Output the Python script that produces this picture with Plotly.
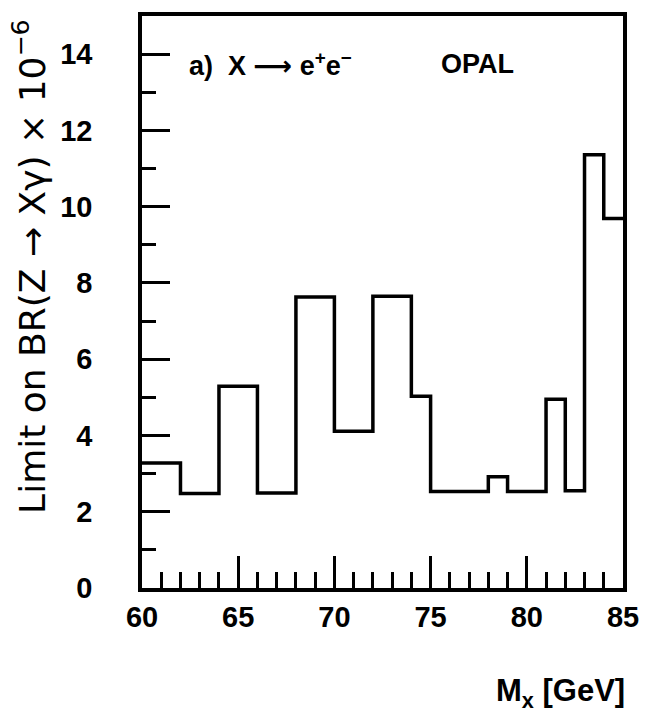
import plotly.graph_objects as go

# Bin edges (GeV) and limit values (x 10^-6)
bin_edges = [60, 62, 64, 66, 68, 70, 72, 74, 75, 78, 79, 81, 82, 83, 84, 85]
limits = [3.28, 2.48, 5.29, 2.49, 7.63, 4.11, 7.65, 5.03, 2.53, 2.92, 2.53, 4.95, 2.55, 11.36, 9.69]

x_ticks = [60, 65, 70, 75, 80, 85]
y_ticks = [0, 2, 4, 6, 8, 10, 12, 14]

FONT = "Liberation Sans, Arial, sans-serif"
WIDE = "DejaVu Sans, sans-serif"

fig = go.Figure()
fig.add_trace(go.Scatter(
    x=bin_edges,
    y=limits + [limits[-1]],
    mode="lines",
    line=dict(shape="hv", color="black", width=3.5),
    showlegend=False,
    hoverinfo="skip",
))

L, R, T, B = 142, 21, 12, 136
PW, PH = 651 - L - R, 724 - T - B


def px(x):
    return (x - L) / PW


def py(y):
    return (724 - B - y) / PH


fig.update_layout(
    width=651, height=724,
    margin=dict(l=L, r=R, t=T, b=B),
    paper_bgcolor="white", plot_bgcolor="white",
    font=dict(family=FONT, color="black"),
    xaxis=dict(
        range=[60, 85], tickvals=x_ticks, ticktext=[str(v) for v in x_ticks],
        ticks="inside", ticklen=32, tickwidth=3, tickcolor="black",
        minor=dict(dtick=1, tick0=60, ticks="inside", ticklen=16, tickwidth=3, tickcolor="black"),
        showgrid=False, zeroline=False,
        showline=True, linecolor="black", linewidth=3.5, mirror=True,
        tickfont=dict(size=29, family=FONT, weight="bold"),
        ticklabelstandoff=0,
    ),
    yaxis=dict(
        range=[0, 15], tickvals=y_ticks, ticktext=[str(v) for v in y_ticks],
        ticks="inside", ticklen=28, tickwidth=3, tickcolor="black",
        minor=dict(dtick=1, tick0=0, ticks="inside", ticklen=14, tickwidth=3, tickcolor="black"),
        showgrid=False, zeroline=False,
        showline=True, linecolor="black", linewidth=3.5, mirror=True,
        tickfont=dict(size=29, family=FONT, weight="bold"),
        ticklabelstandoff=40,
    ),
    annotations=[
        dict(text="a)  X <span style='font-family:DejaVu Sans'>\u27f6</span> e<sup>+</sup>e<sup>\u2212</sup>",
             xref="paper", yref="paper",
             x=px(188), y=py(60), xanchor="left", yanchor="middle",
             showarrow=False, font=dict(size=27, family=FONT, weight="bold")),
        dict(text="OPAL", xref="paper", yref="paper",
             x=px(443), y=py(60), xanchor="left", yanchor="middle",
             showarrow=False, font=dict(size=27, family=FONT, weight="bold")),
        dict(text="Limit on BR(Z \u2192 X\u03b3) \u00d7 10<sup>\u22126</sup>", xref="paper", yref="paper",
             x=px(28), y=py(265), xanchor="center", yanchor="middle",
             textangle=-90, showarrow=False, font=dict(size=36, family=WIDE)),
        dict(text="M<sub>x</sub> [GeV]", xref="paper", yref="paper",
             x=px(567), y=py(694), xanchor="center", yanchor="middle",
             showarrow=False, font=dict(size=31, family=FONT, weight="bold")),
    ],
)

fig.write_html("out.html")
